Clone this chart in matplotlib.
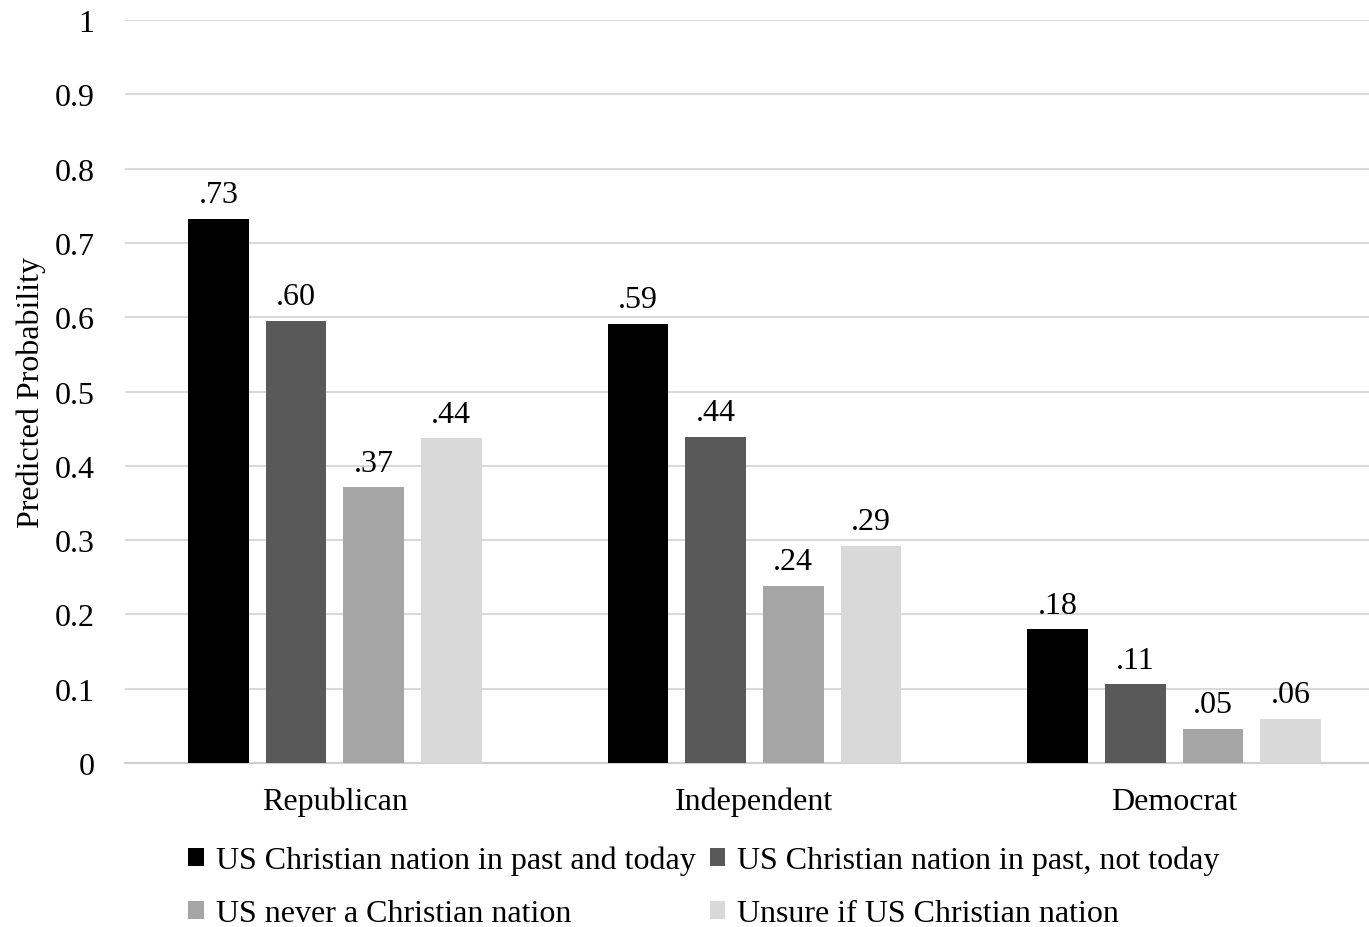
import matplotlib
matplotlib.use('Agg')
import matplotlib.pyplot as plt
from matplotlib.patches import Patch
import numpy as np

parties = ['Republican', 'Independent', 'Democrat']
series_names = ['US Christian nation in past and today',
                'US Christian nation in past, not today',
                'US never a Christian nation',
                'Unsure if US Christian nation']
past_and_today = [0.732, 0.591, 0.180]
past_not_today = [0.595, 0.439, 0.106]
never = [0.371, 0.238, 0.046]
unsure = [0.437, 0.292, 0.059]
labels_past_and_today = ['.73', '.59', '.18']
labels_past_not_today = ['.60', '.44', '.11']
labels_never = ['.37', '.24', '.05']
labels_unsure = ['.44', '.29', '.06']
yticks = [0, 0.1, 0.2, 0.3, 0.4, 0.5, 0.6, 0.7, 0.8, 0.9, 1]
ytick_labels = ['0', '0.1', '0.2', '0.3', '0.4', '0.5', '0.6', '0.7', '0.8', '0.9', '1']

colors = ['#000000', '#595959', '#a5a5a5', '#d9d9d9']
fs = 23

plt.rcParams['font.family'] = ['Liberation Serif', 'DejaVu Serif']

fig = plt.figure(figsize=(13.69, 9.28), dpi=100)
ax = fig.add_axes([125 / 1369, 1 - 764 / 928, 1259 / 1369, (764 - 21) / 928])

x = np.arange(len(parties))
step = 0.185
width = 0.144
all_vals = [past_and_today, past_not_today, never, unsure]
all_labels = [labels_past_and_today, labels_past_not_today, labels_never, labels_unsure]
for i, (vals, labs) in enumerate(zip(all_vals, all_labels)):
    pos = x + (i - 1.5) * step
    ax.bar(pos, vals, width=width, color=colors[i], zorder=3)
    for p, v, t in zip(pos, vals, labs):
        ax.annotate(t, (p, v), xytext=(0, 7), textcoords='offset points',
                    ha='center', va='bottom', fontsize=fs)

ax.set_xlim(-0.5, 2.5)
ax.set_ylim(0, 1)
ax.set_yticks(yticks)
ax.set_yticklabels(ytick_labels)
ax.set_xticks(x)
ax.set_xticklabels(parties)
ax.tick_params(axis='both', length=0, labelsize=fs)
ax.tick_params(axis='y', pad=22)
ax.tick_params(axis='x', pad=17)
ax.grid(axis='y', color='#d9d9d9', linewidth=1.5, zorder=0)
ax.set_axisbelow(True)
for s in ['top', 'right', 'left']:
    ax.spines[s].set_visible(False)
ax.spines['bottom'].set_color('#d0d0d0')
ax.spines['bottom'].set_linewidth(1.5)
ax.set_ylabel('Predicted Probability', fontsize=fs, labelpad=6)

# legend is filled row by row in the reference
order = [0, 2, 1, 3]
handles = [Patch(facecolor=colors[i], edgecolor='none') for i in order]
fig.legend(handles, [series_names[i] for i in order], loc='center',
           bbox_to_anchor=(704 / 1369, 1 - 888 / 928),
           ncol=2, frameon=False, fontsize=fs, handlelength=0.48, handleheight=0.48,
           handletextpad=0.38, columnspacing=0.45, labelspacing=0.75,
           borderpad=0, borderaxespad=0)

fig.savefig('out.png', dpi=100)
